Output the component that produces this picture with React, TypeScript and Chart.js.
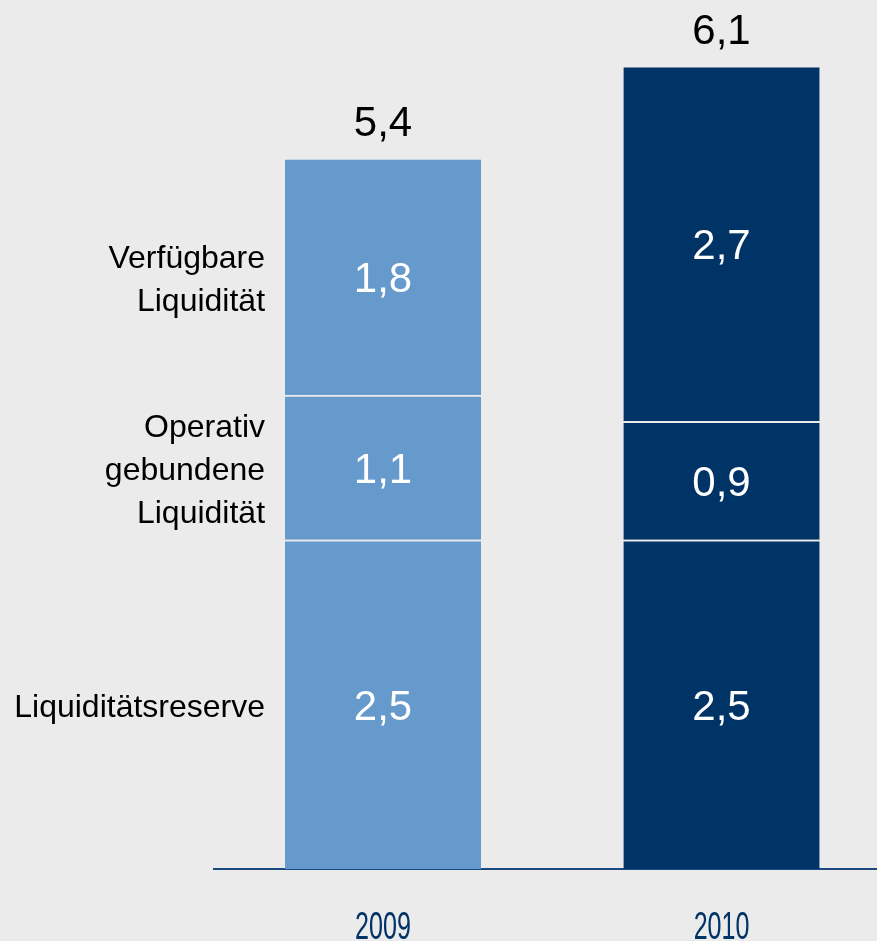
import React, { useEffect, useRef } from "react";
import { Chart, registerables } from "chart.js";

Chart.register(...registerables);

const years = ["2009", "2010"];
const reserve = [2.5, 2.5];
const operativ = [1.1, 0.9];
const verfuegbar = [1.8, 2.7];
const totals = [5.4, 6.1];
const seriesNames = ["Liquiditätsreserve", "Operativ gebundene Liquidität", "Verfügbare Liquidität"];
const seriesLines = [["Liquiditätsreserve"], ["Operativ", "gebundene", "Liquidität"], ["Verfügbare", "Liquidität"]];
const barColors = ["#6699cc", "#003366"];

const BG = "#ebebeb";
const FONT = "'Liberation Sans', Arial, sans-serif";

const fmt = (v: number) => v.toFixed(1).replace(".", ",");

const labelPlugin = {
  id: "labelPlugin",
  beforeDraw(chart: any) {
    const ctx = chart.ctx;
    ctx.save();
    ctx.fillStyle = BG;
    ctx.fillRect(0, 0, chart.width, chart.height);
    ctx.restore();
  },
  afterDraw(chart: any) {
    const ctx = chart.ctx;
    ctx.save();
    // values in segments
    ctx.font = `42px ${FONT}`;
    ctx.textAlign = "center";
    ctx.textBaseline = "middle";
    ctx.fillStyle = "#ffffff";
    chart.data.datasets.forEach((ds: any, di: number) => {
      const meta = chart.getDatasetMeta(di);
      meta.data.forEach((bar: any, i: number) => {
        const cy = (bar.y + bar.base) / 2 + 4;
        ctx.fillText(fmt(ds.data[i].y), bar.x, cy);
      });
    });
    // totals
    const topMeta = chart.getDatasetMeta(chart.data.datasets.length - 1);
    ctx.fillStyle = "#000000";
    ctx.textBaseline = "alphabetic";
    topMeta.data.forEach((bar: any, i: number) => {
      ctx.fillText(fmt(totals[i]), bar.x, bar.y - 22);
    });
    // left series labels, aligned with first bar segments
    ctx.font = `32px ${FONT}`;
    ctx.textAlign = "right";
    ctx.textBaseline = "middle";
    ctx.fillStyle = "#000000";
    const lh = 43;
    chart.data.datasets.forEach((ds: any, di: number) => {
      const bar = chart.getDatasetMeta(di).data[0];
      const { width } = bar.getProps(["width"], true);
      const x = bar.x - width / 2 - 20;
      const cy = (bar.y + bar.base) / 2 + 4;
      const lines = seriesLines[di];
      lines.forEach((t: string, li: number) => {
        ctx.fillText(t, x, cy + (li - (lines.length - 1) / 2) * lh);
      });
    });
    // year labels under the axis (condensed)
    const xs = chart.scales.x;
    ctx.font = `38px ${FONT}`;
    ctx.fillStyle = "#003366";
    ctx.textAlign = "center";
    ctx.textBaseline = "alphabetic";
    years.forEach((y) => {
      const px = xs.getPixelForValue(Number(y));
      ctx.save();
      ctx.translate(px, chart.chartArea.bottom + 70);
      ctx.scale(0.66, 1);
      ctx.fillText(y, 0, 0);
      ctx.restore();
    });
    ctx.restore();
  },
};

export default function App() {
  const ref = useRef<HTMLCanvasElement>(null);
  useEffect(() => {
    document.body.style.margin = "0";
    const canvas = ref.current!;
    const mk = (vals: number[], name: string) => ({
      label: name,
      data: years.map((y, i) => ({ x: Number(y), y: vals[i] })),
      backgroundColor: barColors,
      borderColor: BG,
      borderWidth: { top: 2, left: 0, right: 0, bottom: 0 },
      borderSkipped: "start" as const,
      barThickness: 196,
    });
    const chart = new Chart(canvas, {
      type: "bar",
      data: {
        datasets: [
          mk(reserve, seriesNames[0]),
          mk(operativ, seriesNames[1]),
          mk(verfuegbar, seriesNames[2]),
        ],
      },
      options: {
        responsive: false,
        animation: false,
        devicePixelRatio: 1,
        layout: { padding: { left: 214, right: 0, top: 0, bottom: 72 } },
        plugins: { legend: { display: false }, tooltip: { enabled: false } },
        scales: {
          x: {
            type: "linear",
            stacked: true,
            offset: false,
            min: 2008.5007,
            max: 2010.4593,
            grid: { display: false, drawTicks: false, offset: false },
            border: { display: true, color: "#1d4a7e", width: 2 },
            ticks: { display: false },
          },
          y: {
            stacked: true,
            display: false,
            min: 0,
            max: 6.6,
          },
        },
      },
      plugins: [labelPlugin],
    });
    return () => chart.destroy();
  }, []);
  return (
    <div style={{ position: "absolute", left: 0, top: 0, width: 877, height: 941, background: BG }}>
      <canvas ref={ref} width={877} height={941} style={{ display: "block" }} />
    </div>
  );
}
